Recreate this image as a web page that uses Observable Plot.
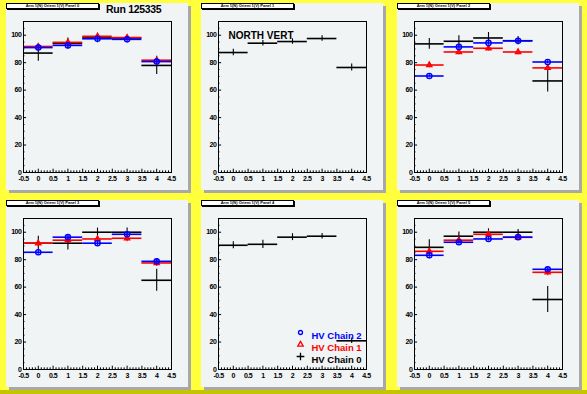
<!DOCTYPE html>
<html><head><meta charset="utf-8">
<script src="https://cdn.jsdelivr.net/npm/d3@7"></script>
<script src="https://cdn.jsdelivr.net/npm/@observablehq/plot@0.6"></script>
<style>
html,body{margin:0;padding:0;background:#ffff3c;}
#canvas{position:relative;width:587px;height:394px;background:#ffff3c;overflow:hidden;font-family:"Liberation Sans",Arial,sans-serif;}
#canvas .bottomband{position:absolute;left:0;top:390px;width:587px;height:4px;background:#c4c400;}
.pad{position:absolute;width:182px;height:187px;background:#f0f4f4;box-shadow:3px 3px 0 #a8a8a8;}
.pad svg{position:absolute;left:0;top:0;}
.pad svg g[aria-label="x-axis tick label"] text,
.pad svg g[aria-label="y-axis tick label"] text{letter-spacing:-0.45px;}
.tbox{position:absolute;left:0;top:0;width:91px;height:4px;background:#fff;border:1px solid #000;box-shadow:1px 1px 0 #000;font-size:4px;line-height:4px;text-align:center;font-weight:bold;color:#000;white-space:nowrap;overflow:hidden;}
.run{position:absolute;left:100px;top:0px;font-size:10.5px;font-weight:bold;color:#000;white-space:nowrap;letter-spacing:-0.3px;}
</style></head>
<body><div id="canvas"><div class="bottomband"></div></div>
<script>
// ---- data ----
const bins = [0, 1, 2, 3, 4];
const panelTitles = ["Arm 1(N) Orient 1(V) Panel 0","Arm 1(N) Orient 1(V) Panel 1","Arm 1(N) Orient 1(V) Panel 2",
                     "Arm 1(N) Orient 1(V) Panel 3","Arm 1(N) Orient 1(V) Panel 4","Arm 1(N) Orient 1(V) Panel 5"];
const runLabel = "Run 125335";
const panelNote = "NORTH VERT";
const seriesNames = ["HV Chain 0", "HV Chain 1", "HV Chain 2"];
const seriesColors = ["#000000", "#ff0000", "#0000ff"];
// per panel (0..5), per bin (0..4); null = chain not drawn
const chain0Val = [[87, 94, 98, 98, 78],[87.4, 94.2, 95.4, 97.6, 76.5],[93.7, 95.6, 98, 96, 66.7],
                   [92, 92, 100, 100, 65],[90.5, 91.2, 96.4, 97.1, 20.9],[89, 97.1, 100, 100, 51]];
const chain0Err = [[6, 4, 3.5, 2, 6.6],[2.3, 2, 2, 2, 2.5],[4, 4, 4, 3, 8],
                   [5, 5, 3, 3, 8],[2.5, 3, 2.5, 2, 2],[5.5, 3, 2.5, 2, 9.5]];
const chain1Val = [[91.8, 94.8, 99.2, 98.3, 81.8], null, [78.3, 87.8, 90.5, 87.8, 76.2],
                   [92, 94.2, 95.1, 95.6, 77.6], null, [86.1, 94.2, 98.5, 96.3, 70.8]];
const chain1Err = [[2, 2, 1.5, 1.5, 2], null, [2, 2, 2, 2, 2.5],
                   [2, 2, 2, 2.5, 2.5], null, [2, 2, 1.5, 1.5, 2.5]];
const chain2Val = [[91, 92.6, 97.4, 97, 80.8], null, [70.3, 91.5, 94.4, 95.9, 80.5],
                   [85.4, 96.4, 92, 98.5, 78.8], null, [83.2, 92.7, 95.1, 96.4, 73]];
const chain2Err = [[2, 2, 2, 2, 2], null, [1.5, 1.5, 1.5, 1.5, 1.5],
                   [2, 2, 2, 1.5, 2], null, [2.5, 2, 1.5, 1, 2]];
const xTickLabels = ["-0.5","0","0.5","1","1.5","2","2.5","3","3.5","4","4.5"];
const yTickLabels = ["0","20","40","60","80","100"];

// ---- layout ----
const PW = 182, PH = 187;
const padPos = [[6,3],[201,3],[397,3],[6,200],[201,200],[397,200]];
const xDomain = [-0.5, 4.5], yDomain = [0, 110];
const xMajor = xTickLabels.map(Number);
const yMajor = yTickLabels.map(Number);
const xMinor = d3.range(-5, 46).map(k => k / 10).filter(v => !xMajor.some(m => Math.abs(m - v) < 1e-9));
const yMinor = d3.range(0, 111, 5).filter(v => !yMajor.includes(v));
const vals = [chain0Val, chain1Val, chain2Val];
const errs = [chain0Err, chain1Err, chain2Err];
const symbols = [null, "triangle", "circle"];
const font = {fontFamily: "Liberation Sans, Arial, sans-serif", fontWeight: "bold"};

function makePanel(i) {
  const marks = [];
  // tick marks (inward), lengths in data units
  marks.push(Plot.ruleX(xMajor, {x: d => d, y1: 0, y2: 2.4, stroke: "black"}));
  marks.push(Plot.ruleX(xMinor, {x: d => d, y1: 0, y2: 1.2, stroke: "black"}));
  marks.push(Plot.ruleY(yMajor, {y: d => d, x1: -0.5, x2: -0.395, stroke: "black"}));
  marks.push(Plot.ruleY(yMinor, {y: d => d, x1: -0.5, x2: -0.45, stroke: "black"}));
  marks.push(Plot.axisX({ticks: xMajor, label: null, tickSize: 0, tickPadding: 4, tickFormat: d => xTickLabels[xMajor.indexOf(d)], fontSize: 7, ...font, fill: "black"}));
  marks.push(Plot.axisY({ticks: yMajor, label: null, tickSize: 0, tickPadding: 2, tickFormat: d => yTickLabels[yMajor.indexOf(d)], fontSize: 7, ...font, fill: "black"}));
  for (let c = 0; c < 3; c++) {
    if (!vals[c][i]) continue;
    const data = bins.map((b, j) => ({x: b, y: vals[c][i][j], e: errs[c][i][j]}));
    const col = seriesColors[c];
    marks.push(Plot.ruleY(data, {y: "y", x1: d => d.x - 0.5, x2: d => d.x + 0.5, stroke: col, strokeWidth: 1.6}));
    marks.push(Plot.ruleX(data, {x: "x", y1: d => d.y - d.e, y2: d => d.y + d.e, stroke: col, strokeWidth: 1.1}));
    if (symbols[c]) marks.push(Plot.dot(data, {x: "x", y: "y", symbol: symbols[c], r: c === 2 ? 2.6 : 1.9, stroke: col, strokeWidth: 1.4, fill: "none"}));
  }
  if (i === 1) {
    marks.push(Plot.text([panelNote], {text: d => d, frameAnchor: "top-left", dx: 10, dy: 10, textAnchor: "start", fontSize: 10, ...font, fill: "black"}));
  }
  if (i === 4) {
    const order = [2, 1, 0];
    order.forEach((c, k) => {
      const dy = 114 + k * 12;
      const sym = c === 0 ? "plus" : symbols[c];
      marks.push(Plot.dot([seriesNames[c]], {frameAnchor: "top-left", dx: 82, dy, symbol: sym, r: c === 0 ? 2.6 : 2, stroke: seriesColors[c], strokeWidth: 1.3, fill: "none"}));
      marks.push(Plot.text([seriesNames[c]], {text: d => d, frameAnchor: "top-left", dx: 93, dy, textAnchor: "start", fontSize: 9.5, ...font, fill: seriesColors[c]}));
    });
  }
  marks.push(Plot.frame({stroke: "black", strokeWidth: 1}));
  return Plot.plot({
    width: PW, height: PH,
    marginLeft: 17, marginRight: 17, marginTop: 18, marginBottom: 18,
    x: {domain: xDomain},
    y: {domain: yDomain},
    style: {background: "transparent", overflow: "visible"},
    marks
  });
}

const canvas = document.getElementById("canvas");
padPos.forEach(([px, py], i) => {
  const pad = document.createElement("div");
  pad.className = "pad";
  pad.style.left = px + "px";
  pad.style.top = py + "px";
  pad.appendChild(makePanel(i));
  const tb = document.createElement("div");
  tb.className = "tbox";
  tb.textContent = panelTitles[i];
  pad.appendChild(tb);
  if (i === 0) {
    const r = document.createElement("div");
    r.className = "run";
    r.textContent = runLabel;
    pad.appendChild(r);
  }
  canvas.appendChild(pad);
});
</script>
</body></html>
